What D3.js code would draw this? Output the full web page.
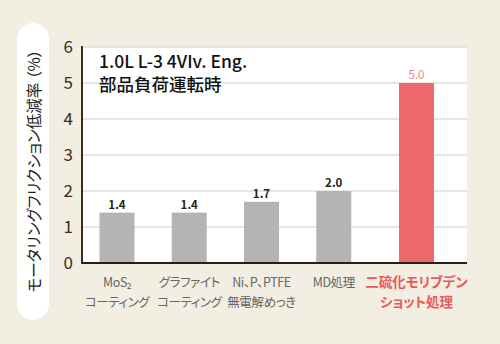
<!DOCTYPE html>
<html><head><meta charset="utf-8">
<script src="https://cdn.jsdelivr.net/npm/d3@7"></script>
<style>
html,body{margin:0;padding:0;background:#f2eee2;}
svg{display:block;}
text{font-feature-settings:"palt";}
</style></head>
<body>
<svg id="chart" width="500" height="344"></svg>
<script>
const categories = ["MoS2", "グラファイト", "Ni、P、PTFE", "MD処理", "二硫化モリブデン"];
const labelLine1 = ["MoS₂", "グラファイト", "Ni、P、PTFE", "MD処理", "二硫化モリブデン"];
const labelLine2 = ["コーティング", "コーティング", "無電解めっき", "", "ショット処理"];
const values = [1.4, 1.4, 1.7, 2.0, 5.0];
const highlight = [false, false, false, false, true];
const yTicks = [0, 1, 2, 3, 4, 5, 6];
const titleLines = ["1.0L L-3 4VIv. Eng.", "部品負荷運転時"];
const yLabel = "モータリングフリクション低減率 （%）";

const svg = d3.select("#chart");
const W = 500, H = 344;
const pLeft = 82, pRight = 467, pTop = 47, pBottom = 263;
const jp = "'Noto Sans CJK JP', 'Noto Sans', sans-serif";

svg.append("rect").attr("width", W).attr("height", H).attr("fill", "#f2eee2");

// y label pill
svg.append("rect").attr("x", 17).attr("y", 23).attr("width", 32).attr("height", 297)
  .attr("rx", 16).attr("ry", 16).attr("fill", "#ffffff");
svg.append("text")
  .attr("transform", `translate(33,${(40 + 302) / 2}) rotate(-90)`)
  .attr("text-anchor", "middle").attr("dominant-baseline", "central")
  .attr("font-family", jp).attr("font-size", 15.5).attr("fill", "#222")
  .text(yLabel);

// plot area
svg.append("rect").attr("x", pLeft).attr("y", pTop).attr("width", pRight - pLeft).attr("height", pBottom - pTop)
  .attr("fill", "#ffffff");

const y = d3.scaleLinear().domain([0, 6]).range([pBottom, pTop]);
const x = d3.scalePoint().domain(categories).range([117, 406]);
const gap = 10.5;
const cx = (d, i) => x(d) + (highlight[i] ? gap : 0);
const bw = 35;

// gridlines
svg.append("g").selectAll("line").data(yTicks.filter(t => t > 0)).join("line")
  .attr("x1", pLeft).attr("x2", pRight)
  .attr("y1", d => y(d)).attr("y2", d => y(d))
  .attr("stroke", "#dedede").attr("stroke-width", 1.5);

// y axis
const yAxis = d3.axisLeft(y).tickValues(yTicks).tickSize(0).tickPadding(9).tickFormat(d3.format("d"));
const ya = svg.append("g").attr("transform", `translate(${pLeft},0)`).call(yAxis);
ya.select(".domain").remove();
ya.selectAll("text").attr("font-family", jp).attr("font-size", 17).attr("fill", "#3b2c1e");

// bars
svg.append("g").selectAll("rect").data(categories).join("rect")
  .attr("x", (d, i) => cx(d, i) - bw / 2)
  .attr("y", (d, i) => y(values[i]))
  .attr("width", bw)
  .attr("height", (d, i) => y(0) - y(values[i]))
  .attr("fill", (d, i) => highlight[i] ? "#ec6a6b" : "#b4b4b4");

// value labels
svg.append("g").selectAll("text").data(categories).join("text")
  .attr("x", (d, i) => cx(d, i))
  .attr("y", (d, i) => y(values[i]) - 4)
  .attr("text-anchor", "middle")
  .attr("font-family", jp).attr("font-size", 11.5)
  .attr("font-weight", (d, i) => highlight[i] ? "normal" : "bold")
  .attr("fill", (d, i) => highlight[i] ? "#f08585" : "#222")
  .text((d, i) => values[i].toFixed(1));

// axes lines
svg.append("line").attr("x1", pLeft).attr("x2", pLeft).attr("y1", pTop - 1).attr("y2", pBottom + 1)
  .attr("stroke", "#3b2c1e").attr("stroke-width", 2);
svg.append("line").attr("x1", pLeft).attr("x2", pRight).attr("y1", pBottom).attr("y2", pBottom)
  .attr("stroke", "#2a1e14").attr("stroke-width", 2);

// x labels
const xl = svg.append("g").selectAll("text").data(categories).join("text")
  .attr("text-anchor", "middle")
  .attr("font-family", jp)
  .attr("font-size", (d, i) => highlight[i] ? 13.5 : 12.5)
  .attr("letter-spacing", (d, i) => highlight[i] ? 0 : -0.4)
  .attr("font-weight", (d, i) => highlight[i] ? "bold" : "normal")
  .attr("fill", (d, i) => highlight[i] ? "#e9585a" : "#666");
xl.append("tspan").attr("x", (d, i) => cx(d, i)).attr("y", 287).text((d, i) => labelLine1[i]);
xl.append("tspan").attr("x", (d, i) => cx(d, i)).attr("y", 307).text((d, i) => labelLine2[i]);

// title
svg.append("g").selectAll("text").data(titleLines).join("text")
  .attr("font-family", jp).attr("font-size", 17.5).attr("font-weight", 500).attr("fill", "#111")
  .attr("x", 99).attr("y", (d, i) => 67.5 + i * 23).text(d => d);
</script>
</body></html>
